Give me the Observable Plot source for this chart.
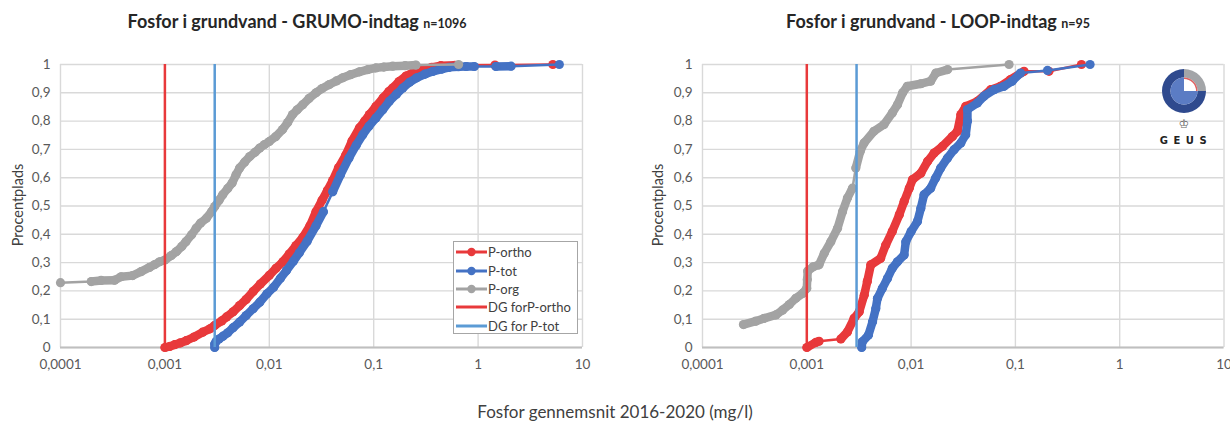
<!DOCTYPE html>
<html><head><meta charset="utf-8">
<script src="https://cdn.jsdelivr.net/npm/d3@7"></script>
<script src="https://cdn.jsdelivr.net/npm/@observablehq/plot@0.6"></script>
<style>
body{margin:0;background:#fff;font-family:Lato,"Open Sans",sans-serif}
#wrap{position:relative;width:1230px;height:428px;overflow:hidden;background:#fff}
.panel{position:absolute;top:0}
.title{position:absolute;top:10px;font-weight:bold;font-size:18px;color:#262626;white-space:nowrap;transform:translateX(-50%)}
.title small{font-size:12.5px}
.ylab{position:absolute;font-size:14.5px;color:#404040;white-space:nowrap;transform:translate(-50%,-50%) rotate(-90deg)}
.xlab{position:absolute;left:615px;top:401px;font-size:17px;color:#404040;white-space:nowrap;transform:translateX(-50%)}
.legend{position:absolute;border:1px solid #a6a6a6;background:#fff;box-sizing:border-box;padding-top:1px}
.legend .row{display:flex;align-items:center;height:18.4px;font-size:13px;color:#404040;white-space:nowrap}
.legend svg{margin-left:2px;margin-right:1px}
.logo{position:absolute}
</style></head><body><div id="wrap"></div>
<script>
// ---- data ----
const xTicks = [0.0001, 0.001, 0.01, 0.1, 1, 10];
const yTicks = [0, 0.1, 0.2, 0.3, 0.4, 0.5, 0.6, 0.7, 0.8, 0.9, 1];
const seriesNames = ["P-ortho", "P-tot", "P-org"];
const limitNames = ["DG forP-ortho", "DG for P-tot"];
const limitValues = [0.001, 0.003];
const titles = ["Fosfor i grundvand - GRUMO-indtag", "Fosfor i grundvand - LOOP-indtag"];
const counts = ["n=1096", "n=95"];
const xLabel = "Fosfor gennemsnit 2016-2020 (mg/l)";
const yLabel = "Procentplads";

const grumoOrtho = [[0.001,0],[0.00112,0.004],[0.00124,0.01],[0.0014,0.016],[0.0016,0.024],[0.0019,0.037],[0.0023,0.054],[0.0027,0.066],[0.003,0.078],[0.0035,0.094],[0.0039,0.108],[0.0045,0.126],[0.0052,0.148],[0.006,0.17],[0.007,0.198],[0.0082,0.224],[0.01,0.255],[0.0116,0.28],[0.0135,0.303],[0.0155,0.33],[0.018,0.36],[0.021,0.39],[0.0245,0.43],[0.028,0.48],[0.032,0.52],[0.036,0.555],[0.0405,0.59],[0.046,0.635],[0.054,0.68],[0.062,0.73],[0.073,0.776],[0.082,0.8],[0.091,0.823],[0.105,0.852],[0.123,0.882],[0.14,0.905],[0.152,0.917],[0.175,0.94],[0.204,0.959],[0.24,0.972],[0.296,0.982],[0.36,0.99],[0.44,0.996],[0.6,0.997],[1.45,0.998],[5.2,1.0]];
const grumoTot = [[0.003,0],[0.003,0.012],[0.0031,0.022],[0.0033,0.03],[0.0036,0.04],[0.004,0.052],[0.0045,0.07],[0.0052,0.09],[0.006,0.113],[0.007,0.137],[0.0081,0.16],[0.0095,0.19],[0.011,0.213],[0.0128,0.245],[0.0146,0.272],[0.017,0.305],[0.0194,0.335],[0.023,0.375],[0.028,0.43],[0.033,0.48],[0.0405,0.55],[0.048,0.61],[0.058,0.67],[0.068,0.715],[0.0785,0.752],[0.09,0.782],[0.105,0.811],[0.122,0.84],[0.141,0.87],[0.165,0.895],[0.19,0.917],[0.22,0.937],[0.258,0.953],[0.31,0.966],[0.37,0.976],[0.45,0.984],[0.53,0.99],[0.65,0.992],[0.77,0.993],[0.92,0.993],[1.48,0.993],[2.07,0.994],[6.0,1.0]];
const grumoOrg = [[0.0001,0.229],[0.000197,0.233],[0.000245,0.237],[0.00033,0.238],[0.00038,0.25],[0.00049,0.254],[0.00059,0.268],[0.00071,0.283],[0.0008,0.293],[0.00089,0.303],[0.001,0.309],[0.00115,0.325],[0.00129,0.339],[0.00145,0.357],[0.00159,0.374],[0.0018,0.398],[0.00199,0.421],[0.0022,0.44],[0.0025,0.457],[0.0028,0.48],[0.003,0.498],[0.0033,0.52],[0.00358,0.54],[0.004,0.562],[0.0044,0.581],[0.0048,0.61],[0.0052,0.634],[0.0058,0.655],[0.0065,0.675],[0.0073,0.69],[0.0081,0.705],[0.009,0.717],[0.01,0.728],[0.0115,0.745],[0.0134,0.77],[0.015,0.795],[0.0167,0.823],[0.0185,0.84],[0.0209,0.858],[0.024,0.88],[0.028,0.9],[0.032,0.915],[0.0376,0.929],[0.044,0.942],[0.0505,0.953],[0.06,0.964],[0.073,0.974],[0.088,0.982],[0.105,0.988],[0.125,0.991],[0.152,0.994],[0.2,0.996],[0.254,0.998],[0.65,1.0]];

const loopOrtho = [[0.001,0],[0.00122,0.018],[0.00131,0.022],[0.00212,0.03],[0.00245,0.055],[0.00284,0.103],[0.00318,0.126],[0.00355,0.185],[0.0038,0.233],[0.00411,0.292],[0.0051,0.315],[0.00571,0.362],[0.0066,0.41],[0.0077,0.469],[0.00857,0.516],[0.0096,0.563],[0.0103,0.593],[0.0124,0.616],[0.0144,0.658],[0.0166,0.687],[0.02,0.711],[0.0249,0.746],[0.0278,0.764],[0.03,0.823],[0.0334,0.852],[0.0432,0.87],[0.058,0.911],[0.072,0.923],[0.09,0.947],[0.121,0.976],[0.21,0.976],[0.43,1.0]];
const loopTot = [[0.00336,0],[0.0034,0.02],[0.0039,0.044],[0.00427,0.091],[0.00459,0.138],[0.00476,0.174],[0.0053,0.209],[0.00593,0.244],[0.0066,0.28],[0.0074,0.303],[0.00857,0.327],[0.0089,0.374],[0.01,0.41],[0.0115,0.445],[0.0124,0.492],[0.0133,0.54],[0.0154,0.563],[0.0172,0.599],[0.0192,0.634],[0.0223,0.669],[0.0258,0.699],[0.03,0.723],[0.0334,0.752],[0.0347,0.8],[0.0347,0.841],[0.0432,0.864],[0.05,0.888],[0.0625,0.911],[0.0777,0.923],[0.093,0.941],[0.112,0.97],[0.203,0.979],[0.52,1.0]];
const loopOrg = [[0.000247,0.081],[0.000324,0.093],[0.00039,0.103],[0.000505,0.115],[0.000585,0.132],[0.00068,0.152],[0.000785,0.174],[0.00091,0.191],[0.001,0.209],[0.00101,0.24],[0.00102,0.27],[0.00115,0.285],[0.00131,0.292],[0.00147,0.333],[0.0017,0.374],[0.00197,0.421],[0.0022,0.48],[0.00245,0.528],[0.00274,0.563],[0.00295,0.634],[0.00325,0.693],[0.00354,0.723],[0.0044,0.764],[0.0055,0.788],[0.0066,0.829],[0.0074,0.858],[0.0083,0.9],[0.0092,0.923],[0.0124,0.932],[0.0154,0.941],[0.0173,0.97],[0.0224,0.982],[0.087,1.0]];

// ---- style ----
const seriesColors = ["#e8393b", "#4472c4", "#a3a3a3"];
const limitColors = ["#e8393b", "#5b9bd5"];
const W = 615, H = 428, MT = 64, MB = 81;
const fmt = d => String(d).replace(".", ",");

function segments(pts, decadePx, unitPx) {
  const out = [];
  for (let i = 1; i < pts.length; i++) {
    const [x1, y1] = pts[i - 1], [x2, y2] = pts[i];
    const d = Math.hypot(Math.log10(x2 / x1) * decadePx, (y2 - y1) * unitPx);
    if (d < 20) out.push({x1, y1, x2, y2});
  }
  return out;
}

function chart(series, ml, mr) {
  const decadePx = (W - ml - mr) / 5, unitPx = H - MT - MB;
  const marks = [
    Plot.gridX(xTicks, {stroke: "#d9d9d9", strokeOpacity: 1, strokeWidth: 1.4}),
    Plot.gridY(yTicks, {stroke: "#d9d9d9", strokeOpacity: 1, strokeWidth: 1.4}),
    Plot.ruleY([0], {stroke: "#bfbfbf", strokeWidth: 1.8}),
    Plot.axisX(xTicks, {tickSize: 0, tickPadding: 12, tickFormat: fmt, label: null}),
    Plot.axisY(yTicks, {tickSize: 0, tickPadding: 10, tickFormat: fmt, label: null})
  ];
  series.forEach((pts, i) => {
    const c = seriesColors[i];
    marks.push(Plot.line(pts, {x: d => d[0], y: d => d[1], stroke: c, strokeWidth: 2.5}));
    marks.push(Plot.link(segments(pts, decadePx, unitPx), {x1: "x1", y1: "y1", x2: "x2", y2: "y2", stroke: c, strokeWidth: 8.5, strokeLinecap: "round"}));
    marks.push(Plot.dot(pts, {x: d => d[0], y: d => d[1], fill: c, r: 4.6}));
  });
  limitValues.forEach((v, i) => marks.push(Plot.ruleX([v], {stroke: limitColors[i], strokeWidth: 2.5})));
  return Plot.plot({
    width: W, height: H, marginTop: MT, marginBottom: MB, marginLeft: ml, marginRight: mr,
    x: {type: "log", domain: [0.0001, 10]},
    y: {domain: [0, 1]},
    style: {fontFamily: "Lato, sans-serif", fontSize: "13.5px", color: "#595959", background: "none", overflow: "visible"},
    marks
  });
}

const wrap = document.getElementById("wrap");
const panels = [
  {left: 0, ml: 60, mr: 33, series: [grumoOrtho, grumoTot, grumoOrg], title: 0, tx: 297, ylx: 17},
  {left: 615, ml: 87, mr: 6.5, series: [loopOrtho, loopTot, loopOrg], title: 1, tx: 938, ylx: 657}
];
panels.forEach(p => {
  const el = chart(p.series, p.ml, p.mr);
  el.classList.add("panel");
  el.style.left = p.left + "px";
  wrap.appendChild(el);
  const t = document.createElement("div");
  t.className = "title";
  t.style.left = p.tx + "px";
  t.innerHTML = `${titles[p.title]} <small>${counts[p.title]}</small>`;
  wrap.appendChild(t);
  const yl = document.createElement("div");
  yl.className = "ylab";
  yl.style.left = p.ylx + "px";
  yl.style.top = "205px";
  yl.textContent = yLabel;
  wrap.appendChild(yl);
});

const xl = document.createElement("div");
xl.className = "xlab";
xl.textContent = xLabel;
wrap.appendChild(xl);

// legend (left panel)
const lg = document.createElement("div");
lg.className = "legend";
Object.assign(lg.style, {left: "453px", top: "241px", width: "125px", height: "93px"});
const legendItems = seriesNames.map((n, i) => ({n, c: seriesColors[i], dot: true}))
  .concat(limitNames.map((n, i) => ({n, c: limitColors[i], dot: false})));
legendItems.forEach(it => {
  const row = document.createElement("div");
  row.className = "row";
  row.innerHTML = `<svg width="31" height="10"><line x1="0" y1="5" x2="31" y2="5" stroke="${it.c}" stroke-width="3"/>${it.dot ? `<circle cx="15.5" cy="5" r="4.2" fill="${it.c}"/>` : ""}</svg><span>${it.n}</span>`;
  lg.appendChild(row);
});
wrap.appendChild(lg);

// GEUS logo
const logo = document.createElement("div");
logo.className = "logo";
Object.assign(logo.style, {left: "1156px", top: "69px", width: "58px", height: "80px"});
const arc = (r0, r1, a0, a1) => d3.arc()({innerRadius: r0, outerRadius: r1, startAngle: a0, endAngle: a1});
logo.innerHTML = `<svg width="58" height="80">
 <g transform="translate(28,22)">
  <path d="${arc(13.5, 22, Math.PI/2, 2*Math.PI)}" fill="#2f4a8e"/>
  <path d="${arc(13.5, 22, 0, Math.PI/2)}" fill="#a3a5a8"/>
  <path d="${arc(0, 13.5, Math.PI/2, 2*Math.PI)}" fill="#5b7cc4"/>
  <path d="${arc(12, 13.5, 0, Math.PI/2)}" fill="#e06060"/>
 </g>
 <text x="28" y="59" text-anchor="middle" font-size="12" fill="#666" font-family="DejaVu Sans">♔</text>
 <text x="30" y="75" text-anchor="middle" font-size="10" font-weight="bold" fill="#222" letter-spacing="5.5" font-family="DejaVu Sans">GEUS</text>
</svg>`;
wrap.appendChild(logo);
</script></body></html>
